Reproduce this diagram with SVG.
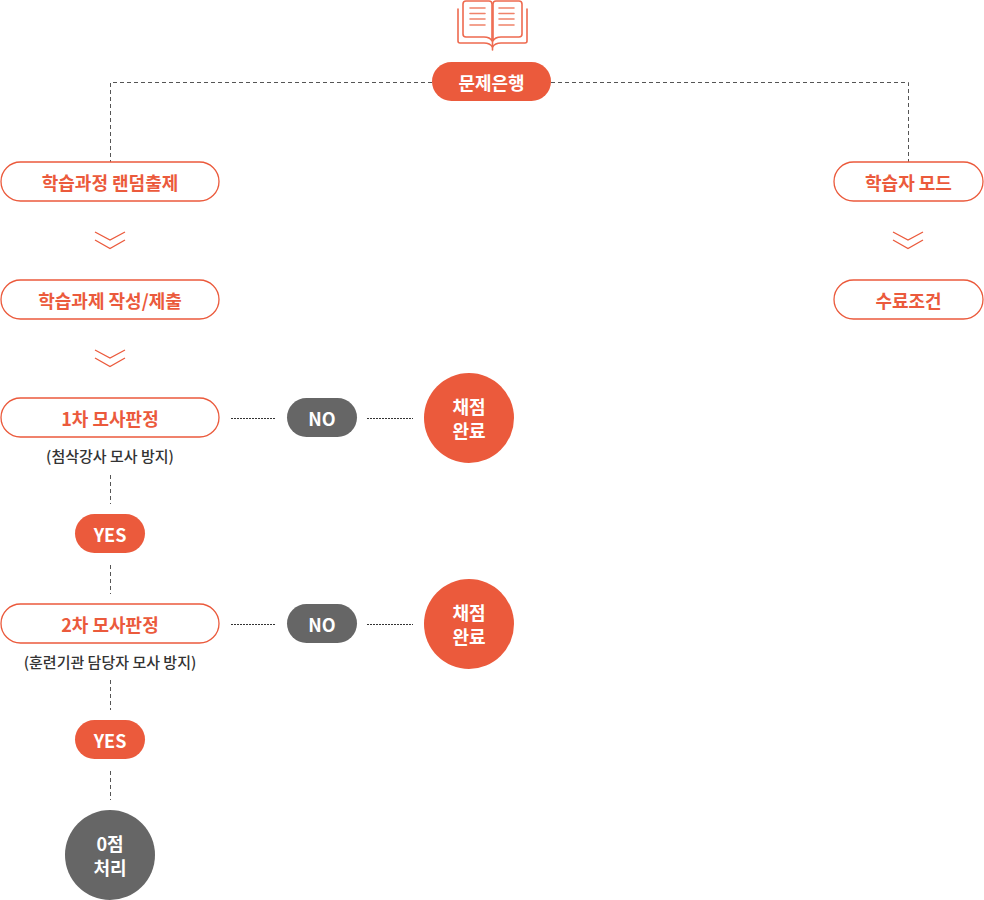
<svg xmlns="http://www.w3.org/2000/svg" width="984" height="900" viewBox="0 0 984 900">
<defs>
<style>
.box{fill:#fff;stroke:#eb5a3c;stroke-width:1.3}
.lbl{font-family:"Noto Sans CJK KR","Noto Sans",sans-serif;font-weight:700;font-size:18px;fill:#eb5a3c;text-anchor:middle;dominant-baseline:central}
.wt{font-family:"Noto Sans CJK KR","Noto Sans",sans-serif;font-weight:700;font-size:18px;fill:#fff;text-anchor:middle;dominant-baseline:central}
.sub{font-family:"Noto Sans CJK KR","Noto Sans",sans-serif;font-weight:500;font-size:15px;fill:#333;text-anchor:middle;dominant-baseline:central}
.or{fill:#eb5a3c}
.gr{fill:#666}
.dash{fill:none;stroke:#555;stroke-width:1;stroke-dasharray:4 3}
.fine{fill:none;stroke:#333;stroke-width:1;stroke-dasharray:2 1}
.chev{fill:none;stroke:#eb5a3c;stroke-width:1.3}
.icon{fill:none;stroke:#ee6a4f;stroke-width:1.6;stroke-linejoin:round;stroke-linecap:round}
.iconl{fill:none;stroke:#f0826a;stroke-width:1.6;stroke-linecap:round}
</style>
</defs>

<g id="connectors">
<path class="dash" d="M432,82.5 H110.5 V162"/>
<path class="dash" d="M551,82.5 H908.5 V162"/>
<path class="dash" d="M110.5,475 V504"/>
<path class="dash" d="M110.5,565 V594"/>
<path class="dash" d="M110.5,680 V710"/>
<path class="dash" d="M110.5,771 V800"/>
<path class="fine" d="M231,418.5 H276 M367,418.5 H413"/>
<path class="fine" d="M231,624.5 H276 M367,624.5 H413"/>
<path class="chev" d="M95,232 L110,240 L125,232 M95,240 L110,248.5 L125,240"/>
<path class="chev" d="M95,350 L110,358 L125,350 M95,358 L110,366.5 L125,358"/>
<path class="chev" d="M893,232 L908,240 L923,232 M893,240 L908,248.5 L923,240"/>
</g>

<g id="icon">
<path class="icon" d="M466,1 H489 Q492,1 492,4 V41 Q490,37 484,37 H466 Q463,37 463,34 V4 Q463,1 466,1 Z"/>
<path class="icon" d="M519,1 H496 Q493,1 493,4 V41 Q495,37 501,37 H519 Q522,37 522,34 V4 Q522,1 519,1 Z"/>
<path class="icon" d="M458,9 V41 Q458,43 460,43 H484 Q490,43 492.5,47 Q495,43 501,43 H525 Q527,43 527,41 V9"/>
<path class="icon" d="M492.5,41 V50"/>
<path class="iconl" d="M470,8 H485 M470,13.5 H485 M470,19 H485 M470,25 H485"/>
<path class="iconl" d="M499,8 H514 M499,13.5 H514 M499,19 H514 M499,25 H514"/>
</g>

<g id="n-bank">
<rect class="or" x="432" y="62" width="119" height="39" rx="19.5"/>
<text class="wt" x="491.5" y="81.5">문제은행</text>
</g>

<g id="n-random">
<rect class="box" x="1" y="162" width="218" height="39" rx="19.5"/>
<text class="lbl" x="110" y="181.5">학습과정 랜덤출제</text>
</g>

<g id="n-submit">
<rect class="box" x="1" y="280" width="218" height="39" rx="19.5"/>
<text class="lbl" x="110" y="299.5">학습과제 작성/제출</text>
</g>

<g id="n-judge1">
<rect class="box" x="1" y="398" width="218" height="39" rx="19.5"/>
<text class="lbl" x="110" y="417.5">1차 모사판정</text>
<text class="sub" x="110" y="455">(첨삭강사 모사 방지)</text>
</g>

<g id="n-no1">
<rect class="gr" x="287" y="398" width="70" height="39" rx="19.5"/>
<text class="wt" x="322" y="417.5">NO</text>
</g>

<g id="n-done1">
<circle class="or" cx="469" cy="418" r="45"/>
<text class="wt" x="469" y="406">채점</text>
<text class="wt" x="469" y="430">완료</text>
</g>

<g id="n-yes1">
<rect class="or" x="75" y="514" width="70" height="39" rx="19.5"/>
<text class="wt" x="110" y="533.5">YES</text>
</g>

<g id="n-judge2">
<rect class="box" x="1" y="604" width="218" height="39" rx="19.5"/>
<text class="lbl" x="110" y="623.5">2차 모사판정</text>
<text class="sub" x="110" y="661">(훈련기관 담당자 모사 방지)</text>
</g>

<g id="n-no2">
<rect class="gr" x="287" y="604" width="70" height="39" rx="19.5"/>
<text class="wt" x="322" y="623.5">NO</text>
</g>

<g id="n-done2">
<circle class="or" cx="469" cy="624" r="45"/>
<text class="wt" x="469" y="612">채점</text>
<text class="wt" x="469" y="636">완료</text>
</g>

<g id="n-yes2">
<rect class="or" x="75" y="720" width="70" height="39" rx="19.5"/>
<text class="wt" x="110" y="739.5">YES</text>
</g>

<g id="n-zero">
<circle class="gr" cx="110" cy="855" r="45"/>
<text class="wt" x="110" y="843">0점</text>
<text class="wt" x="110" y="867">처리</text>
</g>

<g id="n-mode">
<rect class="box" x="834" y="162" width="149" height="39" rx="19.5"/>
<text class="lbl" x="908.5" y="181.5">학습자 모드</text>
</g>

<g id="n-cond">
<rect class="box" x="834" y="280" width="149" height="39" rx="19.5"/>
<text class="lbl" x="908.5" y="299.5">수료조건</text>
</g>
</svg>
